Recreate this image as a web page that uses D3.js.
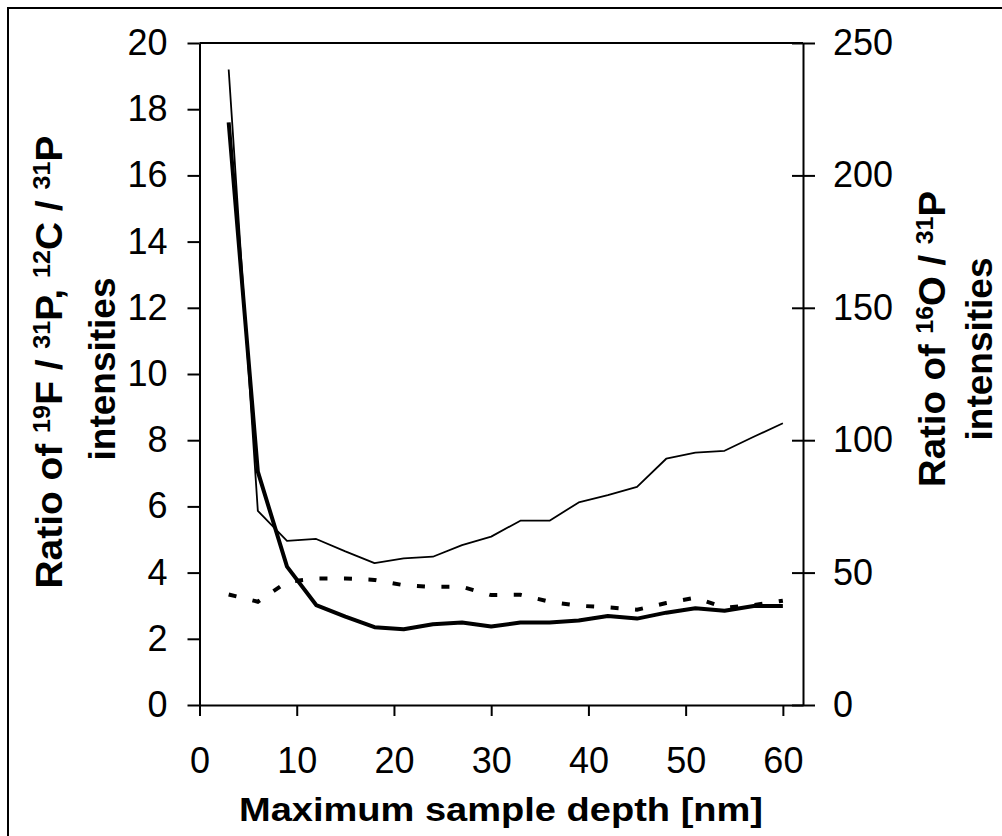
<!DOCTYPE html>
<html>
<head>
<meta charset="utf-8">
<script src="https://cdn.jsdelivr.net/npm/d3@7"></script>
<style>
  body { margin: 0; background: #fff; }
  svg { display: block; font-family: "Liberation Sans", Arial, sans-serif; }
</style>
</head>
<body>
<svg class="svg-chart"></svg>
<script>
// depth values [nm] shared by all three series
var depth = [3, 6, 9, 12, 15, 18, 21, 24, 27, 30, 33, 36, 39, 42, 45, 48, 51, 54, 57, 60];

// thin line, right axis (16O / 31P)
var oxygenRatio = [240, 73.3, 62, 62.7, 58, 53.6, 55.4, 56, 60.4, 63.6,
  69.6, 69.6, 76.5, 79.3, 82.4, 93, 95.3, 96, 101.3, 106.4];

// thick solid line, left axis
var solidRatio = [17.6, 7.05, 4.18, 3.02, 2.67, 2.35, 2.29, 2.44, 2.49, 2.37,
  2.49, 2.49, 2.55, 2.69, 2.61, 2.79, 2.92, 2.85, 2.99, 2.99];

// dashed line, left axis
var dashedRatio = [3.34, 3.12, 3.72, 3.82, 3.82, 3.78, 3.62, 3.57, 3.57, 3.32,
  3.33, 3.12, 3.0, 2.95, 2.88, 3.08, 3.24, 2.94, 3.02, 3.15];

var depthTicks = [0, 10, 20, 30, 40, 50, 60];
var leftTicks = [0, 2, 4, 6, 8, 10, 12, 14, 16, 18, 20];
var rightTicks = [0, 50, 100, 150, 200, 250];

var xTitle = "Maximum sample depth [nm]";
var leftTitle = [["Ratio of "], ["19", true], ["F / "], ["31", true], ["P, "], ["12", true], ["C / "], ["31", true], ["P"]];
var rightTitle = [["Ratio of "], ["16", true], ["O / "], ["31", true], ["P"]];
var secondLine = "intensities";

var width = 1002, height = 836;
var plot = {left: 199.5, right: 803, top: 43, bottom: 705};

var svg = d3.select(".svg-chart")
    .attr("width", width)
    .attr("height", height);

svg.append("rect")
    .attr("width", width).attr("height", height)
    .style("fill", "#fff");

// outer frame (right and bottom edges fall outside the picture)
svg.append("rect")
    .attr("x", 8).attr("y", 8)
    .attr("width", 1000).attr("height", 840)
    .style("fill", "none")
    .style("stroke", "#000")
    .style("stroke-width", 2);

var x = d3.scaleLinear().domain([0, 62.07]).range([plot.left, plot.right]);
var yLeft = d3.scaleLinear().domain([0, 20]).range([plot.bottom, plot.top]);
var yRight = d3.scaleLinear().domain([0, 250]).range([plot.bottom, plot.top]);

function styleAxis(g, size) {
  g.selectAll("path").style("stroke", "#000").style("stroke-width", 2);
  g.selectAll("line").style("stroke", "#000").style("stroke-width", 2);
  g.selectAll("text").style("fill", "#000").style("font-size", size + "px")
    .style("font-family", "'Liberation Sans', Arial, sans-serif");
}

// top edge of plot area
svg.append("line")
    .attr("x1", plot.left).attr("x2", plot.right)
    .attr("y1", plot.top).attr("y2", plot.top)
    .style("stroke", "#000").style("stroke-width", 2);

var leftAxis = svg.append("g")
    .attr("transform", "translate(" + plot.left + ",0)")
    .call(d3.axisLeft(yLeft).tickValues(leftTicks).tickSize(12).tickSizeOuter(0).tickPadding(20));
styleAxis(leftAxis, 36);

var rightAxis = svg.append("g")
    .attr("transform", "translate(" + plot.right + ",0)")
    .call(d3.axisRight(yRight).tickValues(rightTicks).tickSize(12).tickSizeOuter(0).tickPadding(18));
rightAxis.selectAll(".tick line").attr("x1", -11);
styleAxis(rightAxis, 36);

var bottomAxis = svg.append("g")
    .attr("transform", "translate(0," + plot.bottom + ")")
    .call(d3.axisBottom(x).tickValues(depthTicks).tickSize(11).tickSizeOuter(0).tickPadding(31));
styleAxis(bottomAxis, 36);

// series
var idx = d3.range(depth.length);

var oxygenLine = d3.line()
    .x(function(i) { return x(depth[i]); })
    .y(function(i) { return yRight(oxygenRatio[i]); });

var solidLine = d3.line()
    .x(function(i) { return x(depth[i]); })
    .y(function(i) { return yLeft(solidRatio[i]); });

var dashedLine = d3.line()
    .x(function(i) { return x(depth[i]); })
    .y(function(i) { return yLeft(dashedRatio[i]); });

svg.append("path")
    .attr("d", oxygenLine(idx))
    .style("fill", "none").style("stroke", "#000")
    .style("stroke-width", 1.8).style("stroke-linejoin", "round");

svg.append("path")
    .attr("d", dashedLine(idx))
    .style("fill", "none").style("stroke", "#000")
    .style("stroke-width", 4)
    .style("stroke-dasharray", "8,16.5");

svg.append("path")
    .attr("d", solidLine(idx))
    .style("fill", "none").style("stroke", "#000")
    .style("stroke-width", 4).style("stroke-linejoin", "round");

// axis titles
svg.append("text")
    .attr("x", 501).attr("y", 821)
    .attr("text-anchor", "middle")
    .attr("textLength", 524)
    .attr("lengthAdjust", "spacingAndGlyphs")
    .style("font-weight", "bold")
    .style("font-size", "33px")
    .text(xTitle);

function rotatedTitle(bx, cy, parts, len) {
  var t = svg.append("text")
      .attr("transform", "translate(" + bx + "," + cy + ") rotate(-90)")
      .attr("text-anchor", "middle")
      .style("font-weight", "bold")
      .style("font-size", "37px");
  if (len) t.attr("textLength", len).attr("lengthAdjust", "spacingAndGlyphs");
  var shifted = false;
  parts.forEach(function(p) {
    var s = t.append("tspan").text(p[0]);
    if (p[1]) {
      s.style("font-size", "24px").attr("dy", shifted ? 0 : -12);
      shifted = true;
    } else {
      if (shifted) s.attr("dy", 12);
      shifted = false;
    }
  });
  return t;
}

rotatedTitle(62, 362, leftTitle, 453);
rotatedTitle(115, 369, [[secondLine]]);
rotatedTitle(945, 339, rightTitle, 296);
rotatedTitle(992, 349, [[secondLine]]);
</script>
</body>
</html>
